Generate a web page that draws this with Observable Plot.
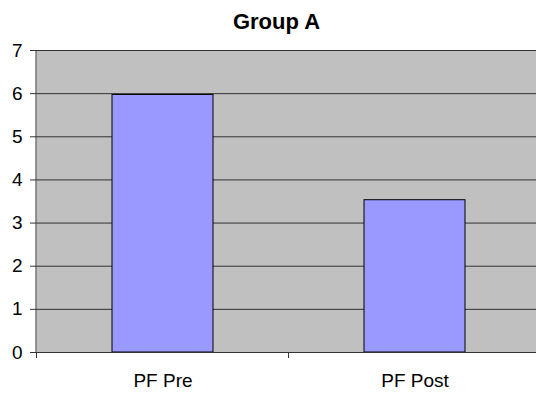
<!DOCTYPE html>
<html>
<head>
<meta charset="utf-8">
<script src="https://cdn.jsdelivr.net/npm/d3@7"></script>
<script src="https://cdn.jsdelivr.net/npm/@observablehq/plot@0.6"></script>
<style>
  html, body { margin: 0; padding: 0; background: #fff; }
  svg { display: block; }
</style>
</head>
<body>
<div id="chart"></div>
<script>
const title = "Group A";
const categories = ["PF Pre", "PF Post"];
const values = [5.97, 3.53];
const yTicks = [0, 1, 2, 3, 4, 5, 6, 7];

const data = categories.map((c, i) => ({category: c, value: values[i]}));

function boundaryTicks(index, scales, vals, dimensions) {
  const x = scales.x;
  const bw = typeof x.bandwidth === "function" ? x.bandwidth() : x.bandwidth;
  const step = typeof x.step === "function" ? x.step() : x.step;
  const half = (step - bw) / 2;
  const y0 = dimensions.height - dimensions.marginBottom;
  const g = d3.create("svg:g").attr("stroke", "#333").attr("stroke-width", 1);
  const xs = categories.map(c => x(c) - half);
  xs.push(x(categories[categories.length - 1]) + bw + half);
  for (const px of xs) {
    g.append("line").attr("x1", px).attr("x2", px).attr("y1", y0).attr("y2", y0 + 6);
  }
  g.append("line")
    .attr("x1", dimensions.marginLeft).attr("x2", dimensions.marginLeft)
    .attr("y1", dimensions.marginTop).attr("y2", y0);
  return g.node();
}

const chart = Plot.plot({
  width: 536,
  height: 393,
  marginTop: 50,
  marginBottom: 41,
  marginLeft: 36,
  marginRight: 0,
  style: {fontFamily: "'Liberation Sans', Arial, sans-serif", background: "#fff", color: "#000"},
  x: {domain: categories, range: [36, 540], paddingInner: 0.6, paddingOuter: 0.3, label: null},
  y: {domain: [0, 7], label: null},
  marks: [
    Plot.frame({fill: "#c0c0c0", stroke: null}),
    Plot.ruleY(yTicks.slice(1), {stroke: "#333", strokeWidth: 1}),
    Plot.barY(data, {x: "category", y: "value", fill: "#9999ff", stroke: "#000", strokeWidth: 1}),
    Plot.ruleY([0], {stroke: "#333", strokeWidth: 1}),
    Plot.axisY({ticks: yTicks, tickFormat: d3.format("d"), tickSize: 6, tickPadding: 8, fontSize: 19, stroke: "#333"}),
    Plot.axisX({tickSize: 0, tickPadding: 21, fontSize: 19}),
    boundaryTicks,
    Plot.text([title], {frameAnchor: "top-left", dx: 240, dy: -29, text: d => d, fontSize: 22, fontWeight: "bold", textAnchor: "middle", lineAnchor: "middle", fill: "#000"})
  ]
});

document.getElementById("chart").appendChild(chart);
</script>
</body>
</html>
